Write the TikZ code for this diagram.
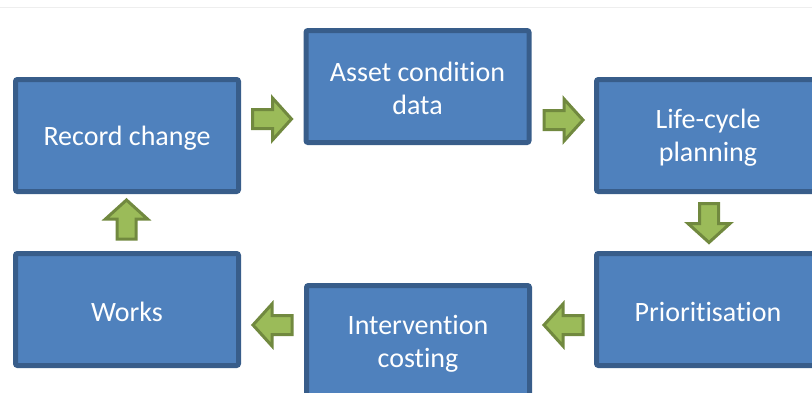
\documentclass[tikz,border=0pt]{standalone}
\usepackage{fontspec}
\setmainfont[Ligatures={NoCommon,NoRare,NoDiscretionary}]{Carlito}
\definecolor{boxfill}{HTML}{4F81BD}
\definecolor{boxline}{HTML}{385D8A}
\definecolor{arrfill}{HTML}{9BBB59}
\definecolor{arrline}{HTML}{71893F}
\definecolor{topline}{HTML}{EEEEEE}
\tikzset{
  stepbox/.style={draw=boxline, fill=boxfill, line width=5pt, rounded corners=2pt,
    minimum width=223pt, minimum height=112pt, inner sep=0pt},
  boxtext/.style={text=white, align=center, inner sep=0pt,
    font=\fontsize{28}{33}\selectfont},
  blockarr/.pic={
    \draw[draw=arrline, fill=arrfill, line width=3pt, line join=miter]
      (-20,-9.5) -- (0,-9.5) -- (0,-21) -- (19,0) -- (0,21) -- (0,9.5) -- (-20,9.5) -- cycle;
  }
}
\begin{document}
\begin{tikzpicture}[x=1pt,y=-1pt]
\useasboundingbox (0,0) rectangle (812,392);
\draw[topline, line width=1pt] (0,7) -- (812,7);
\node[stepbox] (rec) at (127,135.5) {};
\node[stepbox] (asset) at (417.5,86.5) {};
\node[stepbox] (life) at (708,135.5) {};
\node[stepbox] (works) at (127,309.5) {};
\node[stepbox] (inter) at (418,341.5) {};
\node[stepbox] (prio) at (708,309.5) {};
\node[boxtext] (rect) at ([yshift=-2.5pt]rec.center) {Record change};
\node[boxtext] (assett) at ([yshift=-2pt]asset.center) {Asset condition\\data};
\node[boxtext] (lifet) at ([yshift=-2pt]life.center) {Life-cycle\\planning};
\node[boxtext] (workst) at ([yshift=-2pt]works.center) {Works};
\node[boxtext] (intert) at ([yshift=-2pt]inter.center) {Intervention\\costing};
\node[boxtext] (priot) at ([yshift=-2pt]prio.center) {Prioritisation};
\pic at (272.5,119) {blockarr};
\pic at (564,120) {blockarr};
\pic[rotate=-90] at (709,223.5) {blockarr};
\pic[rotate=180] at (563,325) {blockarr};
\pic[rotate=180] at (272,325) {blockarr};
\pic[rotate=90] at (126.5,219) {blockarr};
\end{tikzpicture}
\end{document}
